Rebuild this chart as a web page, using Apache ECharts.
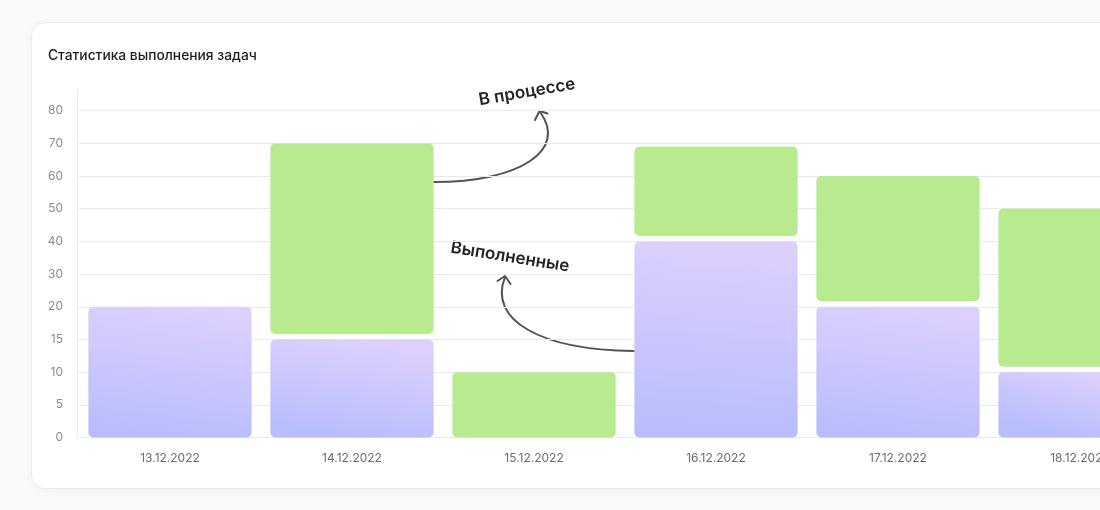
<!DOCTYPE html>
<html>
<head>
<meta charset="utf-8">
<script src="https://cdn.jsdelivr.net/npm/echarts@6/dist/echarts.min.js"></script>
<style>
  html, body { margin: 0; padding: 0; background: #fafafb; overflow: hidden; width: 1100px; height: 510px; }
  #card {
    position: absolute; left: 31px; top: 22px; width: 1090px; height: 465px;
    background: #fff; border: 1px solid #ebebf0; border-radius: 14px;
    box-shadow: 0 2px 10px rgba(30, 30, 60, 0.04);
  }
  /* график шире окна: последний столбец обрезан краем */
  #main { position: absolute; left: 0; top: 0; width: 1190px; height: 510px; }
</style>
</head>
<body>
<div id="card"></div>
<div id="main"></div>
<script>
// данные
const categories = ['13.12.2022', '14.12.2022', '15.12.2022', '16.12.2022', '17.12.2022', '18.12.2022']
const completed = [20, 15, 0, 40, 20, 10]
const inProgress = [0, 55, 10, 29, 40, 40]
// шкала Y неравномерная: подписи стоят на равных расстояниях
const yTicks = [0, 5, 10, 15, 20, 30, 40, 50, 60, 70, 80]

// значение -> позиция на оси (индекс подписи)
const toAxis = (v) => {
  for (let i = 0; i < yTicks.length - 1; i++) {
    if (v <= yTicks[i + 1]) return i + (v - yTicks[i]) / (yTicks[i + 1] - yTicks[i])
  }
  return yTicks.length - 1
}

const doneData = categories.map((c, i) => [i, 0, toAxis(completed[i]), 0])
const progData = categories.map((c, i) => [i, toAxis(completed[i]), toAxis(completed[i] + inProgress[i]), completed[i] > 0 ? 1 : 0])

const purple = new echarts.graphic.LinearGradient(0.55, 0, 0.45, 1, [
  { offset: 0, color: '#ddd0fd' },
  { offset: 1, color: '#b8bdfc' }
])

const barRender = (fill) => (params, api) => {
  const lo = api.value(1), hi = api.value(2)
  if (hi <= lo) return
  const p0 = api.coord([api.value(0), lo])
  const p1 = api.coord([api.value(0), hi])
  const bw = api.size([1, 0])[0] * 0.897
  const gap = api.value(3) ? 5.5 : 0
  return {
    type: 'rect',
    shape: { x: p0[0] - bw / 2, y: p1[1], width: bw, height: p0[1] - gap - p1[1], r: 5 },
    style: { fill: fill }
  }
}

const myChart = echarts.init(document.getElementById('main'))
myChart.setOption({
  animation: false,
  textStyle: { fontFamily: 'Inter' },
  title: {
    text: 'Статистика выполнения задач',
    left: 43, top: 44,
    textStyle: { fontSize: 13.8, fontWeight: 500, color: '#1d1d28', fontFamily: 'Inter' }
  },
  grid: [
    { left: 79, width: 1092, top: 110.7, bottom: 72.5, outerBoundsMode: 'none' },
    { left: 77, width: 1, top: 90, bottom: 72.5, outerBoundsMode: 'none' }
  ],
  xAxis: [
    {
      type: 'category', data: categories, gridIndex: 0,
      axisLine: { show: false }, axisTick: { show: false },
      axisLabel: { color: '#6b6b78', fontSize: 12, margin: 15 }
    },
    { type: 'value', gridIndex: 1, show: false }
  ],
  yAxis: [
    {
      type: 'value', gridIndex: 0, min: 0, max: yTicks.length - 1, interval: 1,
      axisLine: { show: false }, axisTick: { show: false },
      axisLabel: { color: '#8a8a98', fontSize: 12, margin: 16, padding: [0, 0, 7, 0], formatter: (v) => yTicks[v] },
      splitLine: { lineStyle: { color: '#e8e8f0', width: 1 } }
    },
    {
      type: 'value', gridIndex: 1, min: 0, max: 1,
      axisLine: { show: true, lineStyle: { color: '#e8e8f0' } },
      axisTick: { show: false }, axisLabel: { show: false }, splitLine: { show: false }
    }
  ],
  series: [
    {
      name: 'Выполненные', type: 'custom', xAxisIndex: 0, yAxisIndex: 0,
      renderItem: barRender(purple), encode: { x: 0, y: [1, 2] }, data: doneData
    },
    {
      name: 'В процессе', type: 'custom', xAxisIndex: 0, yAxisIndex: 0,
      renderItem: barRender('#b8eb8f'), encode: { x: 0, y: [1, 2] }, data: progData
    }
  ],
  graphic: [
    {
      type: 'text', x: 527, y: 92, rotation: 0.17,
      style: { text: 'В процессе', font: '600 17px Inter', fill: '#23232b', align: 'center', verticalAlign: 'middle' }
    },
    {
      type: 'bezierCurve',
      shape: { x1: 434, y1: 182, cpx1: 520, cpy1: 182, cpx2: 568, cpy2: 150, x2: 540, y2: 112 },
      style: { stroke: '#52525e', lineWidth: 2, fill: null, lineCap: 'round' }
    },
    {
      type: 'polyline',
      shape: { points: [[535, 120], [539.5, 111], [547.5, 113.5]] },
      style: { stroke: '#52525e', lineWidth: 2, fill: null, lineCap: 'round', lineJoin: 'round' }
    },
    {
      type: 'text', x: 510, y: 257, rotation: -0.16,
      style: { text: 'Выполненные', font: '600 17px Inter', fill: '#23232b', align: 'center', verticalAlign: 'middle' }
    },
    {
      type: 'bezierCurve',
      shape: { x1: 634, y1: 351, cpx1: 540, cpy1: 350, cpx2: 488, cpy2: 320, x2: 505, y2: 277 },
      style: { stroke: '#52525e', lineWidth: 2, fill: null, lineCap: 'round' }
    },
    {
      type: 'polyline',
      shape: { points: [[497.5, 281], [505, 276], [510.5, 284]] },
      style: { stroke: '#52525e', lineWidth: 2, fill: null, lineCap: 'round', lineJoin: 'round' }
    }
  ]
})
</script>
</body>
</html>
